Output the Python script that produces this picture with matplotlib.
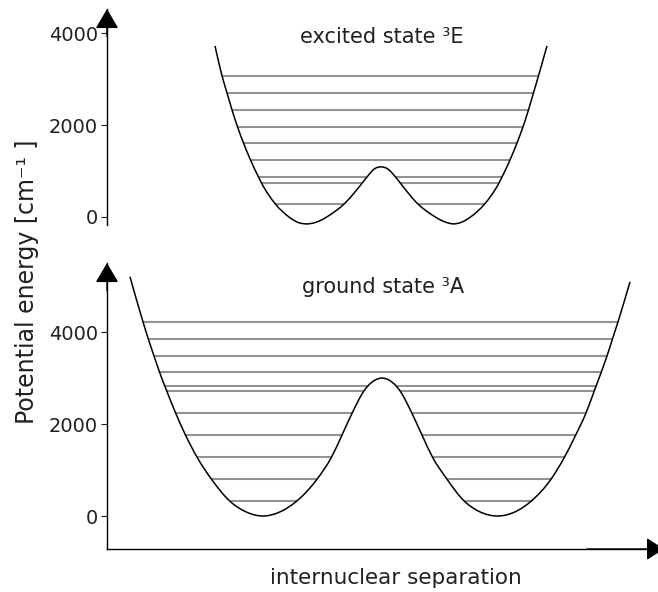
import matplotlib.pyplot as plt
import numpy as np
from matplotlib.path import Path
from matplotlib.patches import PathPatch

# potential curves (x: arbitrary separation units, E in cm^-1)
excited_x = [108, 115, 120, 125, 130.5, 136.5, 143.5, 151.5, 154.5, 168.5,
             182, 191, 200, 208, 213, 225, 236, 256, 260, 268,
             274, 280, 288.5, 292.5, 312, 323, 335, 340, 346, 354,
             363.5, 377.5, 392, 395, 403, 410, 416, 421.5, 426.5, 431.5, 440]
excited_E = [3720, 3070, 2700, 2330, 1960, 1610, 1240, 870, 740, 280,
             0, -118, -150, -122, -80, 75, 260, 760, 870, 1055,
             1090, 1055, 870, 760, 260, 75, -80, -122, -150, -118,
             0, 280, 740, 870, 1240, 1610, 1960, 2330, 2700, 3070, 3720]

ground_x = [23, 36, 41.3, 47, 52.5, 57.7, 59.7, 68.6, 78.5, 90,
            104.5, 122.5, 139, 156.5, 173, 190, 210, 224.5, 235, 245.2,
            257, 261, 268.5, 275, 281.5, 289, 293, 304.8, 315, 325.5,
            340, 357, 373, 390.5, 408, 424.5, 444, 457.5, 468.7, 479,
            487.3, 489.2, 494.3, 500, 505.5, 511, 523]
ground_E = [5200, 4220, 3850, 3480, 3130, 2830, 2720, 2240, 1760, 1280,
            800, 330, 90, 0, 90, 330, 800, 1280, 1760, 2240,
            2720, 2830, 2960, 3000, 2960, 2830, 2720, 2240, 1760, 1280,
            800, 330, 90, 0, 90, 330, 800, 1280, 1760, 2240,
            2720, 2830, 3130, 3480, 3850, 4220, 5090]

# vibrational levels
excited_levels = [3070, 2700, 2330, 1960, 1610, 1240, 870, 740, 280]
ground_levels = [4220, 3850, 3480, 3130, 2830, 2720, 2240, 1760, 1280, 800, 330]

yticks = [0, 2000, 4000]
ytick_labels = ['0', '2000', '4000']

txt = '#231f20'
level_col = '#939393'


def smooth_path(x, v):
    # curve through the read points drawn as cubic Bezier pieces
    x = np.asarray(x, float)
    v = np.asarray(v, float)
    h = np.diff(x)
    d = np.diff(v) / h
    m = np.empty_like(x)
    m[0], m[-1] = d[0], d[-1]
    m[1:-1] = (h[:-1] * d[1:] + h[1:] * d[:-1]) / (h[:-1] + h[1:])
    verts = [(x[0], v[0])]
    codes = [Path.MOVETO]
    for i in range(len(x) - 1):
        verts += [(x[i] + h[i] / 3, v[i] + m[i] * h[i] / 3),
                  (x[i + 1] - h[i] / 3, v[i + 1] - m[i + 1] * h[i] / 3),
                  (x[i + 1], v[i + 1])]
        codes += [Path.CURVE4] * 3
    return Path(verts, codes)


def level_segments(x, v, e):
    # pieces of the level line that lie inside the potential well
    x = np.asarray(x, float)
    v = np.asarray(v, float)
    below = v < e
    cross = []
    for i in range(len(x) - 1):
        if below[i] != below[i + 1]:
            cross.append(x[i] + (e - v[i]) * (x[i + 1] - x[i]) / (v[i + 1] - v[i]))
    return [(cross[k], cross[k + 1]) for k in range(0, len(cross) - 1, 2)]


W, H = 658, 592
fig = plt.figure(figsize=(W / 100, H / 100), dpi=100)

ax1 = fig.add_axes([107 / W, 1 - 225 / H, 551 / W, 216 / H])
ax2 = fig.add_axes([107 / W, 1 - 549 / H, 557 / W, 286 / H])

panels = [
    (ax1, excited_x, excited_E, excited_levels, (-174, 4522), 'excited state ³E', 274.5, 3783),
    (ax2, ground_x, ground_E, ground_levels, (-717, 5500), 'ground state ³A', 276, 4848),
]

for ax, x, v, levels, ylim, label, lx, ly in panels:
    for e in levels:
        for a, b in level_segments(x, v, e):
            ax.plot([a, b], [e, e], color=level_col, lw=1.5, solid_capstyle='butt', zorder=1)
    ax.add_patch(PathPatch(smooth_path(x, v), facecolor='none', edgecolor='black',
                           lw=1.1, zorder=2))
    ax.set_ylim(*ylim)
    ax.set_yticks(yticks)
    ax.set_yticklabels(ytick_labels)
    ax.set_xticks([])
    ax.tick_params(axis='y', direction='out', length=4, width=0.8, pad=2.5,
                   labelsize=14, colors=txt)
    ax.set_facecolor('none')
    ax.spines['top'].set_visible(False)
    ax.spines['right'].set_visible(False)
    ax.spines['left'].set_linewidth(1.0)
    ax.text(lx, ly, label, ha='center', va='baseline', fontsize=15, color=txt)
    # arrow head on the energy axis
    ax.annotate('', xy=(0, ylim[1]), xytext=(0, ylim[1] - 600),
                arrowprops=dict(arrowstyle='-|>,head_length=0.85,head_width=0.5',
                                mutation_scale=14.4, color='black', lw=1.0,
                                shrinkA=0, shrinkB=0),
                annotation_clip=False)

ax1.set_xlim(0, 551)
ax1.spines['bottom'].set_visible(False)

ax2.set_xlim(0, 557)
ax2.spines['bottom'].set_linewidth(1.0)
ax2.annotate('', xy=(557, -717), xytext=(480, -717),
             arrowprops=dict(arrowstyle='-|>,head_length=0.75,head_width=0.48',
                             mutation_scale=14.4, color='black', lw=1.0,
                             shrinkA=0, shrinkB=0),
             annotation_clip=False)

fig.text(396 / W, 1 - 584 / H, 'internuclear separation', ha='center', va='baseline',
         fontsize=15.5, color=txt)
fig.text(27 / W, 1 - 282 / H, 'Potential energy [cm⁻¹ ]', rotation=90, ha='center',
         va='center', fontsize=17, color=txt)

fig.savefig('out.png', dpi=100)
